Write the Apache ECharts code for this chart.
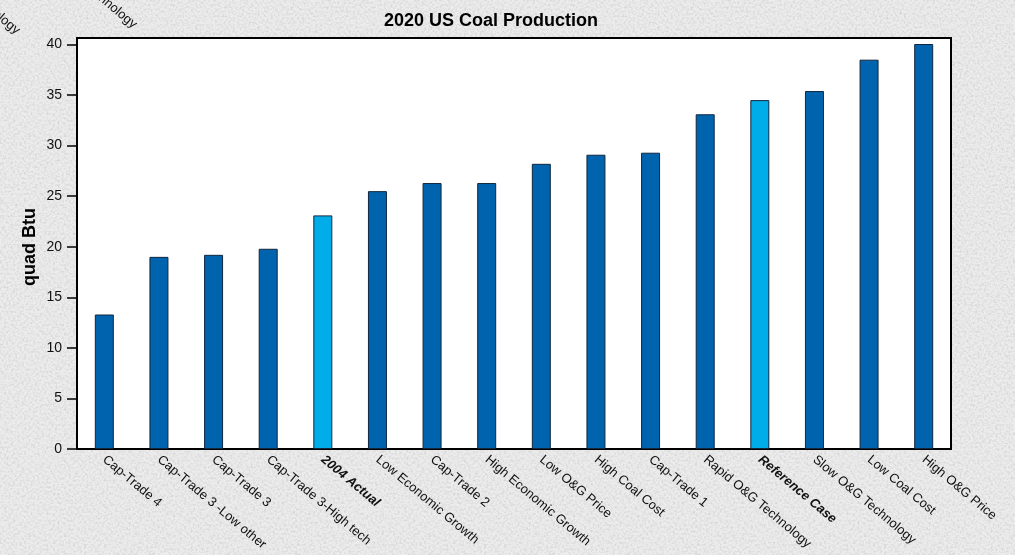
<!DOCTYPE html>
<html>
<head>
<meta charset="utf-8">
<style>
  html, body { margin: 0; padding: 0; }
  body {
    width: 1015px; height: 555px; overflow: hidden;
    background-color: #e9e9e9;
    /* granite-style slide backdrop */
    background-image: url("data:image/svg+xml;utf8,<svg xmlns='http://www.w3.org/2000/svg' width='400' height='400'><filter id='n' x='0' y='0' width='100%25' height='100%25'><feTurbulence type='fractalNoise' baseFrequency='0.45' numOctaves='3' seed='7' stitchTiles='stitch'/><feColorMatrix type='matrix' values='0 0 0 0 0.5  0 0 0 0 0.5  0 0 0 0 0.5  1.1 0 0 0 -0.45'/></filter><rect width='100%25' height='100%25' fill='%23ececec'/><rect width='100%25' height='100%25' filter='url(%23n)'/></svg>");
    background-size: 400px 400px;
  }
  #chart { width: 1015px; height: 555px; }
</style>
<script src="https://cdn.jsdelivr.net/npm/echarts@6/dist/echarts.min.js"></script>
</head>
<body>
<div id="chart"></div>
<script>
// 2020 coal production by scenario (quadrillion Btu)
const scenarios = [
  'Cap-Trade 4', 'Cap-Trade 3 -Low other', 'Cap-Trade 3', 'Cap-Trade 3-High tech',
  '2004 Actual', 'Low Economic Growth', 'Cap-Trade 2', 'High Economic Growth',
  'Low O&G Price', 'High Coal Cost', 'Cap-Trade 1', 'Rapid O&G Technology',
  'Reference Case', 'Slow O&G Technology', 'Low Coal Cost', 'High O&G Price'
];
const production = [13.3, 19.0, 19.2, 19.8, 23.1, 25.5, 26.3, 26.3, 28.2, 29.1, 29.3, 33.1, 34.5, 35.4, 38.5, 40.1];
// Benchmark scenarios shown in light blue with bold italic labels
const highlighted = ['2004 Actual', 'Reference Case'];

const yTicks = [0, 5, 10, 15, 20, 25, 30, 35, 40];
const yTitle = 'quad Btu';

const darkBlue = '#0063ad';
const lightBlue = '#00ade8';

const chart = echarts.init(document.getElementById('chart'), null, { renderer: 'canvas' });

const barData = production.map((v, i) => ({
  value: v,
  itemStyle: { color: highlighted.includes(scenarios[i]) ? lightBlue : darkBlue }
}));

const toRad = d => d * Math.PI / 180;
const labelFont = '13px "Liberation Sans", Arial, sans-serif';

chart.setOption({
  animation: false,
  textStyle: { fontFamily: '"Liberation Sans", Arial, sans-serif' },
  title: {
    text: '2020 US Coal Production',
    left: 486, top: 7, textAlign: 'center',
    textStyle: { fontSize: 18, fontWeight: 'bold', color: '#000' }
  },
  grid: { left: 77, right: 64, top: 44.5, bottom: 106 },
  graphic: [
    {
      type: 'rect', z: -10,
      shape: { x: 77, y: 38, width: 874, height: 411 },
      style: { fill: '#ffffff', stroke: '#000', lineWidth: 2 }
    },
    {
      // vertical axis title
      type: 'text', x: 30, y: 247, rotation: toRad(90),
      style: { text: yTitle, align: 'center', verticalAlign: 'middle',
               font: 'bold 18px "Liberation Sans", Arial, sans-serif', fill: '#000' }
    },
    {
      type: 'text', x: 14, y: 37, rotation: toRad(-40),
      style: { text: 'Slow O&G Technology', align: 'right', verticalAlign: 'bottom',
               font: labelFont, fill: '#111' }
    },
    {
      type: 'text', x: 131, y: 31, rotation: toRad(-40),
      style: { text: 'Rapid O&G Technology', align: 'right', verticalAlign: 'bottom',
               font: labelFont, fill: '#111' }
    }
  ],
  xAxis: {
    type: 'category',
    data: scenarios,
    axisLine: { lineStyle: { color: '#000', width: 2 } },
    axisTick: { show: false },
    axisLabel: {
      interval: 0, rotate: -40, margin: 9,
      fontSize: 13, color: '#111',
      formatter: v => highlighted.includes(v) ? '{b|' + v + '}' : v,
      rich: { b: { fontWeight: 'bold', fontStyle: 'italic', fontSize: 13, color: '#111' } }
    }
  },
  yAxis: {
    type: 'value',
    min: 0, max: 40, interval: 5,
    axisLine: { show: true, lineStyle: { color: '#000', width: 2 } },
    axisTick: { show: true, length: 10, lineStyle: { color: '#000', width: 1.5 } },
    axisLabel: {
      fontSize: 14, color: '#111', margin: 15,
      formatter: v => yTicks.includes(v) ? String(v) : ''
    },
    splitLine: { show: false }
  },
  series: [{
    type: 'bar',
    data: barData,
    barWidth: 19,
    itemStyle: { borderColor: '#10273f', borderWidth: 1 }
  }]
});
</script>
</body>
</html>
